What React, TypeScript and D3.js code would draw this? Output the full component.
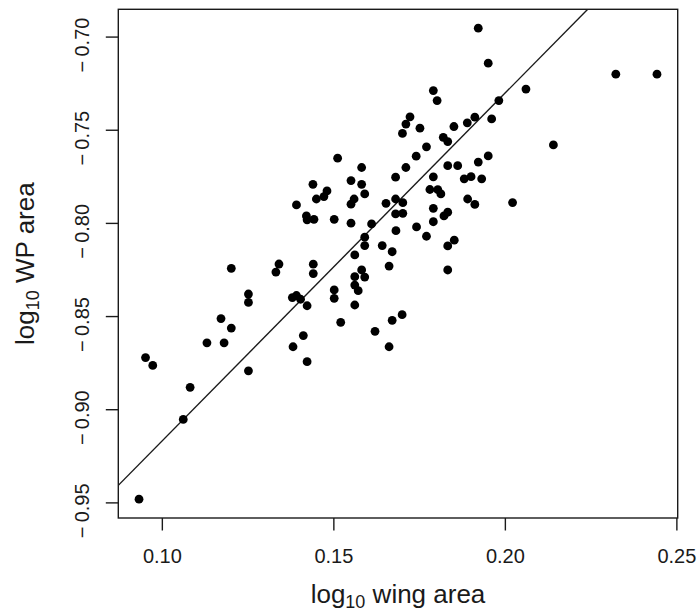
import React from "react";
import * as d3 from "d3";

// log10 wing area per specimen
const wingArea = [
  0.0932, 0.0951, 0.0972, 0.1061, 0.1081, 0.113, 0.118, 0.1171, 0.1201, 0.1201,
  0.1251, 0.1251, 0.1251, 0.1331, 0.134, 0.1379, 0.1391, 0.1403, 0.1422, 0.1381,
  0.1411, 0.1422, 0.1391, 0.142, 0.1422, 0.1442, 0.1439, 0.144, 0.144, 0.1449,
  0.1471, 0.148, 0.1501, 0.1501, 0.1501, 0.1511, 0.152, 0.155, 0.1559, 0.155,
  0.155, 0.1561, 0.1561, 0.1561, 0.1571, 0.1561, 0.1581, 0.1581, 0.159, 0.1581,
  0.159, 0.159, 0.159, 0.161, 0.162, 0.1641, 0.1652, 0.1661, 0.1661, 0.167,
  0.167, 0.168, 0.168, 0.168, 0.1681, 0.1699, 0.17, 0.1701, 0.1701, 0.171,
  0.1722, 0.171, 0.174, 0.1741, 0.1751, 0.177, 0.177, 0.178, 0.179, 0.1801,
  0.179, 0.179, 0.179, 0.1803, 0.1812, 0.1819, 0.1832, 0.1832, 0.1832, 0.1821,
  0.1832, 0.1832, 0.185, 0.1851, 0.1861, 0.188, 0.1889, 0.189, 0.19, 0.1911,
  0.1911, 0.1921, 0.1921, 0.1931, 0.195, 0.195, 0.196, 0.1981, 0.2021, 0.206,
  0.214, 0.2322, 0.2442,
];

// log10 WP area per specimen
const wpArea = [
  -0.948, -0.872, -0.8762, -0.9052, -0.888, -0.8641, -0.8641, -0.8511, -0.8562, -0.8241,
  -0.8379, -0.8424, -0.8791, -0.8261, -0.8218, -0.8398, -0.8387, -0.8407, -0.8442, -0.8662,
  -0.8602, -0.8742, -0.7901, -0.796, -0.7981, -0.7978, -0.779, -0.8219, -0.8269, -0.7869,
  -0.7856, -0.7826, -0.7978, -0.8357, -0.8402, -0.765, -0.8531, -0.777, -0.7869, -0.7897,
  -0.7999, -0.8169, -0.8286, -0.8331, -0.8361, -0.8438, -0.77, -0.779, -0.7842, -0.825,
  -0.8288, -0.8074, -0.8119, -0.8003, -0.8579, -0.8119, -0.7892, -0.8229, -0.8662, -0.8152,
  -0.852, -0.7752, -0.7869, -0.7949, -0.8039, -0.849, -0.7517, -0.7889, -0.7946, -0.7467,
  -0.7428, -0.77, -0.7639, -0.8019, -0.7489, -0.7589, -0.8069, -0.7818, -0.7287, -0.7341,
  -0.775, -0.7919, -0.7991, -0.7819, -0.7842, -0.7538, -0.7561, -0.769, -0.794, -0.796,
  -0.8121, -0.825, -0.748, -0.809, -0.769, -0.7761, -0.746, -0.7869, -0.7749, -0.743,
  -0.7898, -0.6952, -0.7671, -0.7761, -0.714, -0.7638, -0.7439, -0.7341, -0.7888, -0.7279,
  -0.7579, -0.7199, -0.7199,
];

// fitted line: WP = intercept + slope * wing
const fitIntercept = -1.1033;
const fitSlope = 1.867;

const xTicks = [0.1, 0.15, 0.2, 0.25];
const yTicks = [-0.95, -0.9, -0.85, -0.8, -0.75, -0.7];

const W = 697;
const H = 612;
const box = { left: 118.3, right: 677.7, top: 9.3, bottom: 518 };
const FONT = "'Liberation Sans', Arial, Helvetica, sans-serif";
const INK = "#1a1a1a";

// pad an extent by 4% on each side
function padded(values: number[]): [number, number] {
  const [lo, hi] = d3.extent(values) as [number, number];
  const p = (hi - lo) * 0.04;
  return [lo - p, hi + p];
}

export default function App() {
  const x = d3.scaleLinear().domain(padded(wingArea)).range([box.left, box.right]);
  const y = d3.scaleLinear().domain(padded(wpArea)).range([box.bottom, box.top]);

  const [x0, x1] = x.domain();
  const fitLine = d3
    .line<number>()
    .x((d) => x(d))
    .y((d) => y(fitIntercept + fitSlope * d))([x0, x1]);

  const points = wingArea.map((w, i) => ({ w, p: wpArea[i] }));
  const tickLen = 12.5;

  return (
    <svg
      width={W}
      height={H}
      style={{ position: "absolute", left: 0, top: 0, background: "#fff" }}
      fontFamily={FONT}
    >
      <defs>
        <clipPath id="plotArea">
          <rect x={box.left} y={box.top} width={box.right - box.left} height={box.bottom - box.top} />
        </clipPath>
      </defs>
      <rect x={0} y={0} width={W} height={H} fill="#fff" />

      {/* fitted line */}
      <path d={fitLine ?? ""} fill="none" stroke={INK} strokeWidth={1.4} clipPath="url(#plotArea)" />

      {/* specimens */}
      <g fill="#000">
        {points.map((d, i) => (
          <circle key={i} cx={x(d.w)} cy={y(d.p)} r={4.4} />
        ))}
      </g>

      {/* plot frame */}
      <rect
        x={box.left}
        y={box.top}
        width={box.right - box.left}
        height={box.bottom - box.top}
        fill="none"
        stroke={INK}
        strokeWidth={1.4}
      />

      {/* x axis */}
      <g stroke={INK} strokeWidth={1.4}>
        {xTicks.map((t) => (
          <line key={t} x1={x(t)} x2={x(t)} y1={box.bottom} y2={box.bottom + tickLen} />
        ))}
      </g>
      <g fill={INK} fontSize={20} textAnchor="middle">
        {xTicks.map((t) => (
          <text key={t} x={x(t)} y={562.5}>
            {t.toFixed(2)}
          </text>
        ))}
      </g>

      {/* y axis */}
      <g stroke={INK} strokeWidth={1.4}>
        {yTicks.map((t) => (
          <line key={t} x1={box.left - tickLen} x2={box.left} y1={y(t)} y2={y(t)} />
        ))}
      </g>
      <g fill={INK} fontSize={20} textAnchor="middle">
        {yTicks.map((t) => (
          <g key={t}>
            <text transform={`translate(89.3,${y(t)}) rotate(-90)`}>{Math.abs(t).toFixed(2)}</text>
            <text transform={`translate(89.3,${y(t) + 29.5}) rotate(-90)`}>{t < 0 ? "\u2212" : ""}</text>
          </g>
        ))}
      </g>

      {/* axis titles */}
      <text x={(box.left + box.right) / 2} y={603} fontSize={26} fill={INK} textAnchor="middle">
        log<tspan fontSize={18} dy={5}>10</tspan>
        <tspan dy={-5}> wing area</tspan>
      </text>
      <text
        transform={`translate(34.3,${(box.top + box.bottom) / 2}) rotate(-90)`}
        fontSize={26}
        fill={INK}
        textAnchor="middle"
      >
        log<tspan fontSize={18} dy={5}>10</tspan>
        <tspan dy={-5}> WP area</tspan>
      </text>
    </svg>
  );
}
